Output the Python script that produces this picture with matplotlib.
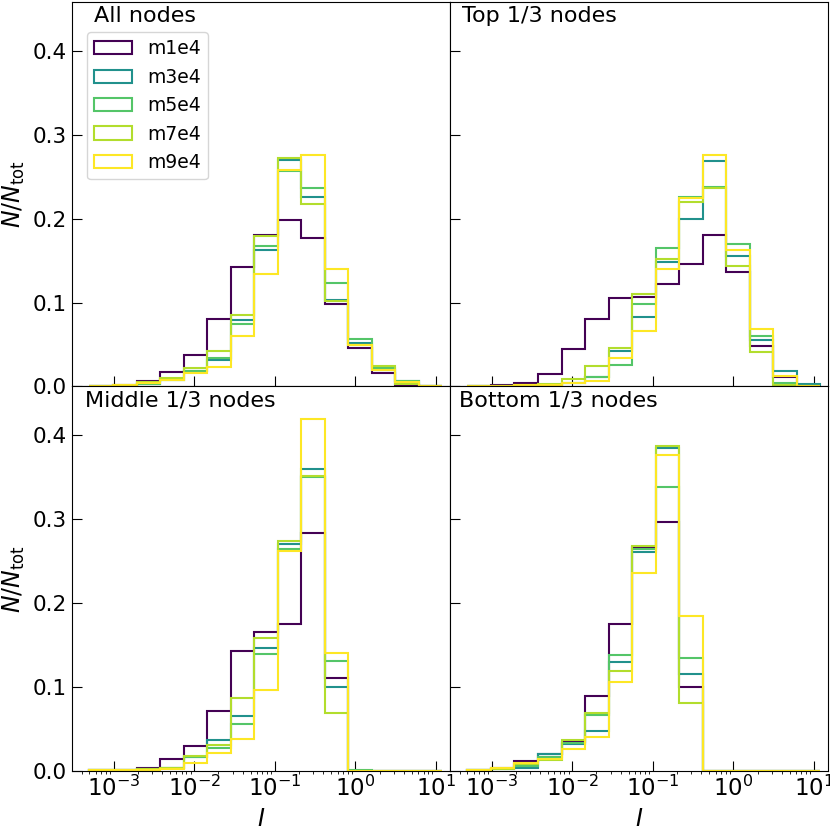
import numpy as np
import matplotlib
matplotlib.use('Agg')
import matplotlib.pyplot as plt

# ---------------- data ----------------
labels = ['m1e4', 'm3e4', 'm5e4', 'm7e4', 'm9e4']
masses = [1, 3, 5, 7, 9]
panel_titles = ['All nodes', 'Top 1/3 nodes', 'Middle 1/3 nodes', 'Bottom 1/3 nodes']
log_edge_min, log_edge_max, n_bins = -3.30, 1.08, 15

# All nodes
all_m1e4 = [0.0005, 0.002, 0.006, 0.017, 0.037, 0.080, 0.142, 0.180, 0.198, 0.177, 0.098, 0.046, 0.016, 0.002, 0.0]
all_m3e4 = [0.0005, 0.001, 0.003, 0.008, 0.018, 0.032, 0.079, 0.163, 0.270, 0.226, 0.103, 0.052, 0.020, 0.007, 0.001]
all_m5e4 = [0.0005, 0.001, 0.003, 0.008, 0.019, 0.034, 0.074, 0.167, 0.257, 0.237, 0.123, 0.057, 0.022, 0.006, 0.001]
all_m7e4 = [0.0005, 0.002, 0.005, 0.010, 0.022, 0.042, 0.085, 0.179, 0.272, 0.217, 0.102, 0.050, 0.024, 0.003, 0.0]
all_m9e4 = [0.001, 0.002, 0.004, 0.008, 0.016, 0.023, 0.060, 0.134, 0.258, 0.276, 0.140, 0.050, 0.020, 0.005, 0.001]

# Top 1/3 nodes
top_m1e4 = [0.0005, 0.002, 0.004, 0.015, 0.045, 0.080, 0.105, 0.107, 0.122, 0.146, 0.181, 0.136, 0.048, 0.011, 0.001]
top_m3e4 = [0.0005, 0.001, 0.001, 0.002, 0.004, 0.011, 0.042, 0.083, 0.148, 0.200, 0.269, 0.156, 0.055, 0.019, 0.003]
top_m5e4 = [0.0005, 0.001, 0.001, 0.002, 0.004, 0.011, 0.026, 0.098, 0.165, 0.226, 0.238, 0.170, 0.060, 0.004, 0.001]
top_m7e4 = [0.0005, 0.001, 0.002, 0.003, 0.009, 0.024, 0.046, 0.110, 0.152, 0.220, 0.237, 0.144, 0.041, 0.002, 0.0]
top_m9e4 = [0.0005, 0.001, 0.002, 0.002, 0.004, 0.007, 0.034, 0.066, 0.140, 0.224, 0.276, 0.162, 0.068, 0.013, 0.001]

# Middle 1/3 nodes
mid_m1e4 = [0.001, 0.001, 0.003, 0.014, 0.030, 0.072, 0.143, 0.166, 0.175, 0.283, 0.111, 0.0, 0.0, 0.0, 0.0]
mid_m3e4 = [0.001, 0.001, 0.002, 0.003, 0.017, 0.037, 0.065, 0.146, 0.270, 0.360, 0.100, 0.0, 0.0, 0.0, 0.0]
mid_m5e4 = [0.001, 0.001, 0.002, 0.004, 0.017, 0.027, 0.056, 0.139, 0.265, 0.350, 0.131, 0.001, 0.0, 0.0, 0.0]
mid_m7e4 = [0.001, 0.001, 0.002, 0.003, 0.018, 0.031, 0.087, 0.158, 0.274, 0.351, 0.069, 0.0, 0.0, 0.0, 0.0]
mid_m9e4 = [0.001, 0.001, 0.001, 0.002, 0.010, 0.021, 0.038, 0.097, 0.262, 0.419, 0.140, 0.0, 0.0, 0.0, 0.0]

# Bottom 1/3 nodes
bot_m1e4 = [0.001, 0.003, 0.012, 0.020, 0.035, 0.089, 0.175, 0.267, 0.296, 0.100, 0.0, 0.0, 0.0, 0.0, 0.0]
bot_m3e4 = [0.001, 0.002, 0.004, 0.020, 0.032, 0.048, 0.130, 0.261, 0.385, 0.116, 0.0, 0.0, 0.0, 0.0, 0.0]
bot_m5e4 = [0.001, 0.002, 0.006, 0.017, 0.033, 0.067, 0.138, 0.265, 0.338, 0.135, 0.0, 0.0, 0.0, 0.0, 0.0]
bot_m7e4 = [0.001, 0.002, 0.008, 0.013, 0.037, 0.069, 0.119, 0.268, 0.387, 0.081, 0.0, 0.0, 0.0, 0.0, 0.0]
bot_m9e4 = [0.001, 0.004, 0.010, 0.014, 0.026, 0.040, 0.106, 0.236, 0.376, 0.185, 0.0, 0.0, 0.0, 0.0, 0.0]

y_ticks = [0.0, 0.1, 0.2, 0.3, 0.4]

panels = [
    [all_m1e4, all_m3e4, all_m5e4, all_m7e4, all_m9e4],
    [top_m1e4, top_m3e4, top_m5e4, top_m7e4, top_m9e4],
    [mid_m1e4, mid_m3e4, mid_m5e4, mid_m7e4, mid_m9e4],
    [bot_m1e4, bot_m3e4, bot_m5e4, bot_m7e4, bot_m9e4],
]

# ---------------- plot ----------------
fig = plt.figure(figsize=(8.3, 8.3), dpi=100)
axes = fig.subplots(2, 2, sharex=True, sharey=True)
fig.subplots_adjust(left=0.0864, right=0.9972, top=0.9976, bottom=0.0711,
                    hspace=0, wspace=0)

edges = np.logspace(log_edge_min, log_edge_max, n_bins + 1)
centers = np.sqrt(edges[:-1] * edges[1:])
cpos = np.log(masses) / np.log(max(masses))
colors = plt.cm.viridis(cpos)

text_x = [0.058, 0.032, 0.035, 0.025]

for i, (ax, title, series) in enumerate(zip(axes.flat, panel_titles, panels)):
    for vals, c, lab in zip(series, colors, labels):
        ax.hist(centers, bins=edges, weights=vals, histtype='step',
                color=c, lw=1.5, label=lab)
    ax.set_xscale('log')
    ax.text(text_x[i], 0.99, title, transform=ax.transAxes, fontsize=16,
            ha='left', va='top')
    ax.tick_params(which='major', direction='in', length=7, width=0.8)
    ax.tick_params(axis='y', labelsize=15.5)
    ax.tick_params(axis='x', labelsize=16.5)

ax0 = axes[0, 0]
ax0.set_xlim(10 ** -3.52, 10 ** 1.17)
ax0.set_ylim(0, 0.458)
ax0.set_yticks(y_ticks)
ax0.legend(loc='upper left', bbox_to_anchor=(0.040, 0.922), borderaxespad=0,
           fontsize=13.5)

for ax in axes[:, 0]:
    ax.set_ylabel(r'$N/N_{\rm tot}$', fontsize=17)
for ax in axes[1, :]:
    ax.set_xlabel(r'$I$', fontsize=17)

fig.savefig('out.png', dpi=100)
